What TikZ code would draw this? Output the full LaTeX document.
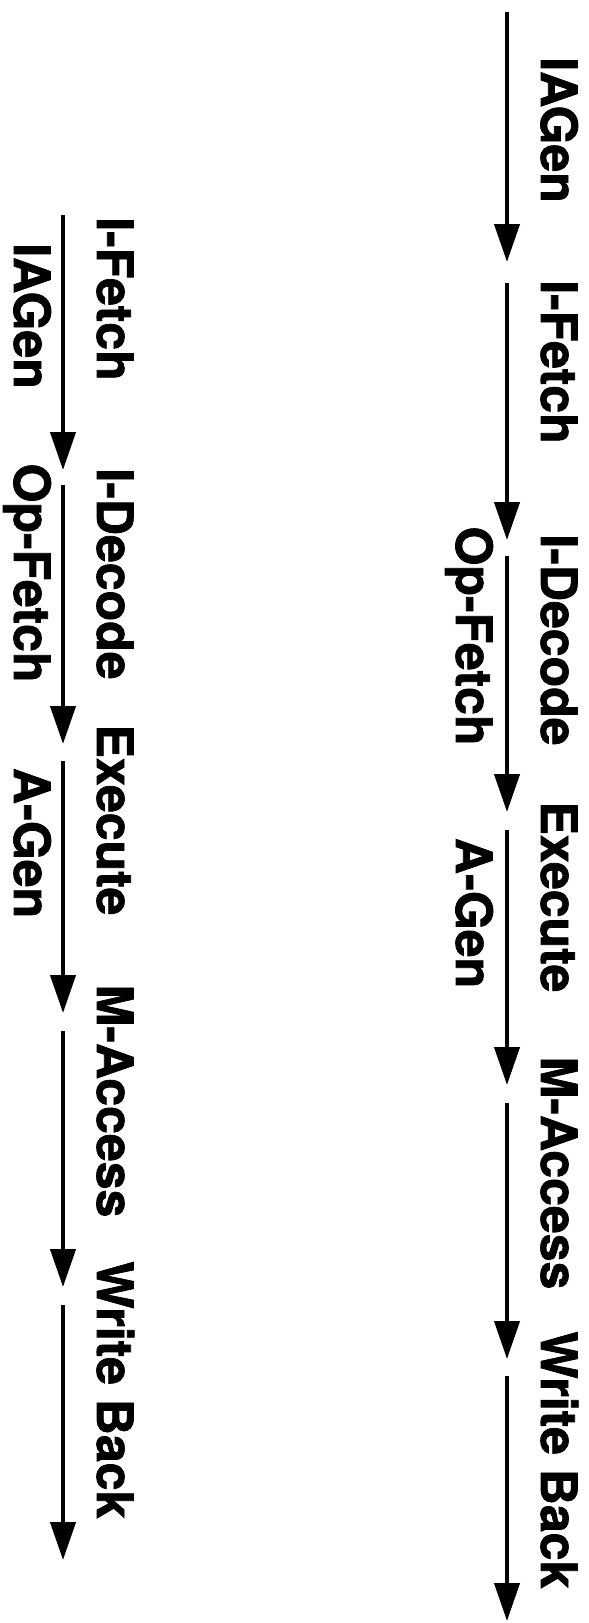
\documentclass[tikz,border=0pt]{standalone}
\usepackage{fontspec}
\newfontfamily\heavyfont[FakeBold=1.5]{TeX Gyre Heros}
\usetikzlibrary{arrows.meta}
\begin{document}
\begin{tikzpicture}[x=0.5pt,y=-0.5pt,
  lbl/.style={rotate=-90, anchor=base, inner sep=0pt, font=\heavyfont\fontsize{25}{30}\selectfont\bfseries},
  flow/.style={line width=2.1pt, -{Triangle[width=12.5pt,length=19pt]}}]
\useasboundingbox (0,0) rectangle (589,1623);
% right column arrows
\foreach \i/\a/\b in {1/12/262, 2/283/540, 3/556/812, 4/830/1085, 5/1103/1359, 6/1376/1621}{
  \coordinate (rs\i) at (507,\a);
  \coordinate (re\i) at (507,\b);
  \draw[flow] (rs\i) -- (re\i);
}
% left column arrows
\foreach \i/\a/\b in {1/215/470, 2/485/744, 3/761/1013, 4/1031/1287, 5/1305/1560}{
  \coordinate (ls\i) at (63,\a);
  \coordinate (le\i) at (63,\b);
  \draw[flow] (ls\i) -- (le\i);
}
% right column labels
\node[lbl] (r1) at (541,130) {IAGen};
\node[lbl] (r2) at (541,362) {I-Fetch};
\node[lbl] (r3) at (541,640) {I-Decode};
\node[lbl] (r4) at (541,897) {Execute};
\node[lbl] (r5) at (541,1173) {M-Access};
\node[lbl] (r6) at (541,1460) {Write Back};
\node[lbl] (r3b) at (456,636) {Op-Fetch};
\node[lbl] (r4b) at (456,913) {A-Gen};
% left column labels
\node[lbl] (l1) at (97,299) {I-Fetch};
\node[lbl] (l2) at (97,574) {I-Decode};
\node[lbl] (l3) at (97,820) {Execute};
\node[lbl] (l4) at (97,1101) {M-Access};
\node[lbl] (l5) at (97,1390) {Write Back};
\node[lbl] (l1b) at (14,316) {IAGen};
\node[lbl] (l2b) at (14,573) {Op-Fetch};
\node[lbl] (l3b) at (14,843) {A-Gen};
\end{tikzpicture}
\end{document}
